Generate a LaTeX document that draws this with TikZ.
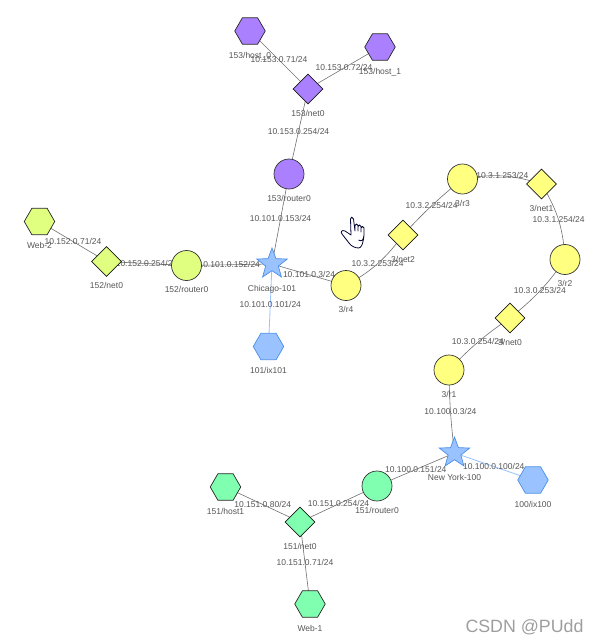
\documentclass[tikz,border=0pt]{standalone}
\usepackage{fontspec}
\setmainfont{Liberation Sans}
\usetikzlibrary{shapes.geometric,backgrounds}
\definecolor{asviolet}{HTML}{AA80FF}
\definecolor{aslime}{HTML}{E0FF80}
\definecolor{asyellow}{HTML}{FFFF80}
\definecolor{asgreen}{HTML}{80FFB0}
\definecolor{asblue}{HTML}{99C2FF}
\definecolor{asblueline}{HTML}{4A90E8}
\definecolor{aslink}{HTML}{707070}
\definecolor{astext}{HTML}{555555}

\begin{document}
\begin{tikzpicture}[x=1pt, y=-1pt, font=\fontsize{8.5}{10}\selectfont, text=astext,
    tag/.style={text height=6.5pt, text depth=1.5pt, inner sep=0pt, yshift=-24.5pt},
    router/.style={draw=black!80, circle, inner sep=0pt, minimum size=30pt, line width=0.7pt},
    net/.style={draw=black!90, diamond, aspect=1, inner sep=0pt, minimum width=30pt, minimum height=30pt, line width=0.7pt},
    host/.style={draw=black!85, regular polygon, regular polygon sides=6, inner sep=0pt, minimum size=30.5pt, line width=0.7pt},
    ixbox/.style={draw=asblueline, fill=asblue, regular polygon, regular polygon sides=6, inner sep=0pt, minimum size=30.5pt, line width=0.7pt},
    exchange/.style={draw=asblueline, fill=asblue, star, star points=5, star point ratio=2.4, inner sep=0pt, minimum size=32pt, line width=0.7pt},
    link/.style={draw=aslink, line width=0.6pt},
    ixlink/.style={draw=asblue, line width=0.8pt},
    addr/.style={inner sep=0pt, text height=6.5pt, text depth=1.5pt}]
    \useasboundingbox (0,0) rectangle (598,643);

    % AS153
    \node[host, fill=asviolet, label={[tag]center:153/host\_0}] (h1530) at (250,31) {};
    \node[host, fill=asviolet, label={[tag]center:153/host\_1}] (h1531) at (380,47) {};
    \node[net, fill=asviolet, label={[tag]center:153/net0}] (n153) at (308,89) {};
    \node[router, fill=asviolet, label={[tag]center:153/router0}] (r153) at (289,174) {};
    % AS152
    \node[host, fill=aslime, label={[tag]center:Web-2}] (web2) at (39.5,221.5) {};
    \node[net, fill=aslime, label={[tag]center:152/net0}] (n152) at (106.5,261.5) {};
    \node[router, fill=aslime, label={[tag]center:152/router0}] (r152) at (186.5,265.5) {};
    % IX101
    \node[exchange, label={[tag]center:Chicago-101}] (chi) at (272,264) {};
    \node[ixbox, label={[tag]center:101/ix101}] (ix101) at (268.5,346.5) {};
    % AS3
    \node[router, fill=asyellow, label={[tag]center:3/r4}] (r4) at (346,285.5) {};
    \node[net, fill=asyellow, label={[tag]center:3/net2}] (net2) at (403,235) {};
    \node[router, fill=asyellow, label={[tag]center:3/r3}] (r3) at (462.5,179) {};
    \node[net, fill=asyellow, label={[tag]center:3/net1}] (net1) at (541.5,184) {};
    \node[router, fill=asyellow, label={[tag]center:3/r2}] (r2) at (565,259.5) {};
    \node[net, fill=asyellow, label={[tag]center:3/net0}] (net0) at (510,318) {};
    \node[router, fill=asyellow, label={[tag]center:3/r1}] (r1) at (449,370) {};
    % IX100
    \node[exchange, label={[tag]center:New York-100}] (nyc) at (454.5,453) {};
    \node[ixbox, label={[tag]center:100/ix100}] (ix100) at (533,480) {};
    % AS151
    \node[router, fill=asgreen, label={[tag]center:151/router0}] (r151) at (377,486) {};
    \node[net, fill=asgreen, label={[tag]center:151/net0}] (n151) at (300,522) {};
    \node[host, fill=asgreen, label={[tag]center:151/host1}] (h151) at (225.5,487) {};
    \node[host, fill=asgreen, label={[tag]center:Web-1}] (web1) at (310,604) {};

    \begin{scope}[on background layer]
        \draw[link] (h1530.center) -- node[addr] {10.153.0.71/24} (n153.center);
        \draw[link] (n153.center) -- node[addr] {10.153.0.72/24} (h1531.center);
        \draw[link] (n153.center) -- node[addr] {10.153.0.254/24} (r153.center);
        \draw[link] (r153.center) -- node[addr] {10.101.0.153/24} (chi.center);
        \draw[link] (web2.center) -- node[addr] {10.152.0.71/24} (n152.center);
        \draw[link] (n152.center) -- node[addr] {10.152.0.254/24} (r152.center);
        \draw[link] (r152.center) -- node[addr] {10.101.0.152/24} (chi.center);
        \draw[ixlink] (chi.center) -- node[addr] {10.101.0.101/24} (ix101.center);
        \draw[link] (chi.center) -- node[addr] {10.101.0.3/24} (r4.center);
        \draw[link] (r4.center) to[bend right=12] node[addr] {10.3.2.253/24} (net2.center);
        \draw[link] (net2.center) to[bend left=4] node[addr] {10.3.2.254/24} (r3.center);
        \draw[link] (r3.center) to[bend left=14] node[addr] {10.3.1.253/24} (net1.center);
        \draw[link] (net1.center) to[bend left=14] node[addr] {10.3.1.254/24} (r2.center);
        \draw[link] (r2.center) to[bend left=8] node[addr] {10.3.0.253/24} (net0.center);
        \draw[link] (net0.center) to[bend right=6] node[addr] {10.3.0.254/24} (r1.center);
        \draw[link] (r1.center) to[bend right=3] node[addr] {10.100.0.3/24} (nyc.center);
        \draw[ixlink] (nyc.center) -- node[addr] {10.100.0.100/24} (ix100.center);
        \draw[link] (nyc.center) -- node[addr] {10.100.0.151/24} (r151.center);
        \draw[link] (r151.center) -- node[addr] {10.151.0.254/24} (n151.center);
        \draw[link] (h151.center) -- node[addr] {10.151.0.80/24} (n151.center);
        \draw[link] (n151.center) -- node[addr] {10.151.0.71/24} (web1.center);
    \end{scope}

    % pointer
    \draw[draw=black!80!blue, fill=white, line width=0.8pt, line join=round]
        (358.5,240) .. controls (362,242) and (363.5,240) .. (364,235)
        -- (364,228) .. controls (364,226) and (361,226) .. (361,228) -- (361,232)
        -- (361,226.5) .. controls (361,224.5) and (358,224.5) .. (358,226.5) -- (358,231)
        -- (358,225.5) .. controls (358,223.5) and (355,223.5) .. (355,225.5) -- (355,231)
        -- (353.5,219) .. controls (353,216.5) and (350,216.5) .. (350.5,219)
        -- (351,235) -- (345,231) .. controls (342,229.5) and (340,232) .. (342,234)
        -- (349,243) .. controls (351,246) and (355,248) .. (358.5,248)
        .. controls (361,248) and (363,245) .. (364,235);

    \node[text=black!38, inner sep=0pt, font=\fontsize{17.8}{20}\selectfont] (mark) at (524.5,627) {CSDN @PUdd};
\end{tikzpicture}
\end{document}
